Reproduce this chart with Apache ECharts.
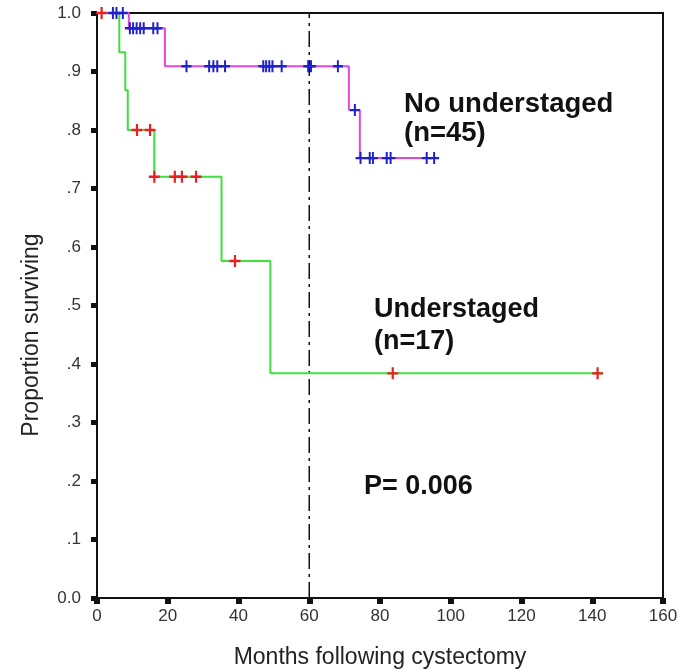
<!DOCTYPE html>
<html>
<head>
<meta charset="utf-8">
<script src="https://cdn.jsdelivr.net/npm/echarts@6/dist/echarts.min.js"></script>
<style>
html,body{margin:0;padding:0;background:#fff;}
#chart{width:680px;height:670px;}
</style>
</head>
<body>
<div id="chart"></div>
<script>
// Kaplan-Meier step points [months, proportion surviving]
const noUnderstagedSteps = [[0,1],[9,0.974],[19.2,0.909],[71.2,0.834],[74.3,0.752],[96.5,0.752]];
const noUnderstagedCensored = [
  [4.5,1],[5.5,1],[7.3,1],
  [9.3,0.974],[10.2,0.974],[11.2,0.974],[12.2,0.974],[13.2,0.974],[15.9,0.974],[17.1,0.974],
  [25.3,0.909],[31.7,0.909],[32.9,0.909],[34,0.909],[36.2,0.909],[47,0.909],[47.8,0.909],[48.7,0.909],[49.6,0.909],[52.2,0.909],[59.7,0.909],[60.5,0.909],[68.1,0.909],
  [72.9,0.834],
  [74.5,0.752],[77.1,0.752],[78,0.752],[81.9,0.752],[83,0.752],[93.2,0.752],[95.3,0.752]
];
const understagedSteps = [[0,1],[6.3,0.933],[8,0.868],[8.7,0.80],[16.2,0.72],[35.2,0.576],[49,0.384],[143,0.384]];
const understagedCensored = [
  [1.3,1],[11.3,0.8],[15,0.8],[16.2,0.72],[22,0.72],[24,0.72],[28,0.72],[39,0.576],[83.6,0.384],[141.5,0.384]
];
const referenceMonth = [[60,0],[60,1]];
const xTicks = {min:0, max:160, interval:20};
const yTicks = {min:0, max:1, interval:0.1};

const plusPath = 'path://M4,0H6V4H10V6H6V10H4V6H0V4H4Z';
const chart = echarts.init(document.getElementById('chart'));
const font = '"Liberation Sans", Arial, Helvetica, sans-serif';
chart.setOption({
  animation:false,
  backgroundColor:'#fff',
  grid:{left:97,right:17,top:13,bottom:72,outerBoundsMode:'none',containLabel:false,show:true,borderColor:'#111',borderWidth:2,backgroundColor:'transparent'},
  xAxis:{
    type:'value',min:xTicks.min,max:xTicks.max,interval:xTicks.interval,
    name:'Months following cystectomy',nameLocation:'middle',nameGap:48,
    nameTextStyle:{fontFamily:font,fontSize:23,color:'#222'},
    axisLine:{show:true,onZero:false,lineStyle:{color:'#111',width:2}},
    axisTick:{show:true,inside:false,length:6,lineStyle:{color:'#111',width:6}},
    axisLabel:{fontFamily:font,fontSize:17,color:'#333',margin:10},
    splitLine:{show:false}
  },
  yAxis:{
    type:'value',min:yTicks.min,max:yTicks.max,interval:yTicks.interval,
    axisLine:{show:true,onZero:false,lineStyle:{color:'#111',width:2}},
    axisTick:{show:true,inside:false,length:6,lineStyle:{color:'#111',width:5}},
    axisLabel:{fontFamily:font,fontSize:17,color:'#333',margin:16,
      formatter:function(v){ if(v===0) return '0.0'; if(v===1) return '1.0'; return '.'+Math.round(v*10);} },
    splitLine:{show:false}
  },
  series:[
    {type:'line',data:referenceMonth,symbol:'none',z:1,
      lineStyle:{color:'#111',width:1.5,type:[16,5,3,5]}},
    {type:'line',name:'Understaged',data:understagedSteps,step:'end',symbol:'none',z:2,
      lineStyle:{color:'#3ee03e',width:2}},
    {type:'line',name:'No understaged',data:noUnderstagedSteps,step:'end',symbol:'none',z:2,
      lineStyle:{color:'#e048e0',width:2}},
    {type:'scatter',data:understagedCensored,symbol:plusPath,symbolSize:[11,12],z:3,
      itemStyle:{color:'#e82020',opacity:1}},
    {type:'scatter',data:noUnderstagedCensored,symbol:plusPath,symbolSize:[10,12],z:3,
      itemStyle:{color:'#2222cc',opacity:1}}
  ],
  graphic:[
    {type:'text',x:32,y:335,rotation:Math.PI/2,style:{text:'Proportion surviving',font:'23px '+font,fill:'#222',align:'center',verticalAlign:'middle'}},
    {type:'text',left:404,top:90,style:{text:'No understaged\n(n=45)',font:'bold 27.5px '+font,fill:'#111',lineHeight:29}},
    {type:'text',left:374,top:294,style:{text:'Understaged\n(n=17)',font:'bold 27px '+font,fill:'#111',lineHeight:32}},
    {type:'text',left:364,top:473,style:{text:'P= 0.006',font:'bold 27px '+font,fill:'#111'}}
  ]
});
</script>
</body>
</html>
